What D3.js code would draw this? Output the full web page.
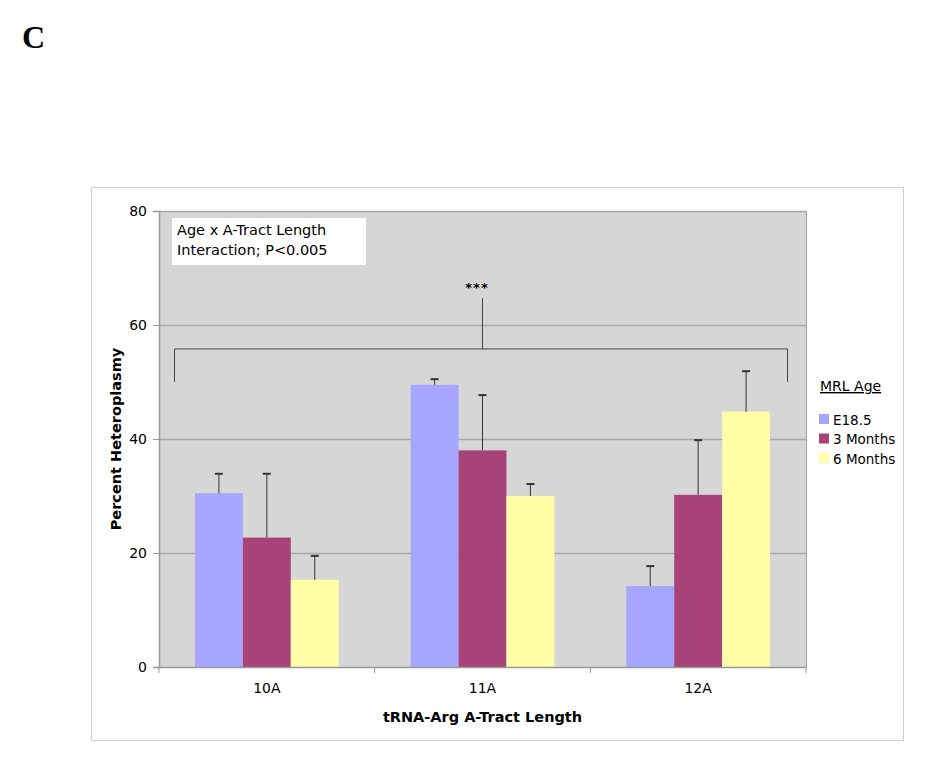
<!DOCTYPE html>
<html>
<head>
<meta charset="utf-8">
<script src="https://cdn.jsdelivr.net/npm/d3@7"></script>
<style>
  body { margin: 0; background: #fff; }
  svg text { font-family: "DejaVu Sans", Verdana, sans-serif; }
</style>
</head>
<body>
<svg id="chart" width="925" height="767"></svg>
<script>
const categories = ["10A", "11A", "12A"];
const seriesNames = ["E18.5", "3 Months", "6 Months"];
const means = {
  "E18.5":    [30.5, 49.5, 14.2],
  "3 Months": [22.7, 38.0, 30.2],
  "6 Months": [15.3, 30.0, 44.8]
};
const upper = {
  "E18.5":    [33.9, 50.5, 17.7],
  "3 Months": [33.9, 47.7, 39.8],
  "6 Months": [19.5, 32.1, 51.9]
};
const yTicks = [0, 20, 40, 60, 80];
const colors = ["#a6a6ff", "#a8437a", "#ffffa8"];

const svg = d3.select("#chart");

// panel letter
svg.append("text").attr("x", 22).attr("y", 48)
  .style("font-family", "'Liberation Serif', 'Times New Roman', serif")
  .style("font-weight", "bold").style("font-size", "32px").text("C");

// outer chart frame
svg.append("rect").attr("x", 91.5).attr("y", 187.5).attr("width", 812).attr("height", 553)
  .attr("fill", "#fff").attr("stroke", "#d0d0d0");

const plot = { left: 159, top: 211, right: 806, bottom: 667 };
const y = d3.scaleLinear().domain([0, 80]).range([plot.bottom, plot.top]);
const x0 = d3.scaleBand().domain(categories).range([plot.left, plot.right]);
const x1 = d3.scaleBand().domain(seriesNames).range([0, x0.bandwidth()])
  .paddingOuter(0.75).paddingInner(0);

// plot background
svg.append("rect").attr("x", plot.left).attr("y", plot.top)
  .attr("width", plot.right - plot.left).attr("height", plot.bottom - plot.top)
  .attr("fill", "#d6d6d6");

// gridlines
svg.append("g").selectAll("line").data(yTicks.filter(d => d > 0)).join("line")
  .attr("x1", plot.left).attr("x2", plot.right)
  .attr("y1", d => Math.round(y(d)) + 0.5).attr("y2", d => Math.round(y(d)) + 0.5)
  .attr("stroke", "#a8a8a8").attr("stroke-width", 1.5);

// right border of plot
svg.append("line").attr("x1", plot.right + 0.5).attr("x2", plot.right + 0.5)
  .attr("y1", plot.top).attr("y2", plot.bottom).attr("stroke", "#a0a0a0");

// bars
const groups = svg.append("g").selectAll("g").data(categories).join("g")
  .attr("transform", d => `translate(${x0(d)},0)`);
groups.each(function(cat, ci) {
  const g = d3.select(this);
  seriesNames.forEach((s, si) => {
    const v = means[s][ci], u = upper[s][ci];
    const bx = x1(s), bw = x1.bandwidth(), cx = bx + bw / 2;
    g.append("rect").attr("x", bx).attr("y", y(v))
      .attr("width", bw).attr("height", y(0) - y(v)).attr("fill", colors[si]);
    g.append("line").attr("x1", cx).attr("x2", cx).attr("y1", y(v)).attr("y2", y(u))
      .attr("stroke", "#333").attr("stroke-width", 1);
    g.append("line").attr("x1", cx - 4).attr("x2", cx + 4).attr("y1", y(u)).attr("y2", y(u))
      .attr("stroke", "#333").attr("stroke-width", 2);
  });
});

// axes
const yAxis = svg.append("g").attr("transform", `translate(${plot.left},0)`)
  .call(d3.axisLeft(y).tickValues(yTicks).tickSize(6).tickPadding(6));
const xAxis = svg.append("g").attr("transform", `translate(0,${plot.bottom})`)
  .call(d3.axisBottom(x0).tickSize(0).tickPadding(16));
xAxis.selectAll(".tick line").remove();
xAxis.append("g").selectAll("line").data(d3.range(categories.length + 1)).join("line")
  .attr("x1", i => plot.left + i * x0.bandwidth()).attr("x2", i => plot.left + i * x0.bandwidth())
  .attr("y1", 0).attr("y2", 6).attr("stroke", "#999");
[yAxis, xAxis].forEach(a => {
  a.select(".domain").attr("stroke", "#999").attr("stroke-width", 1.5);
  a.selectAll(".tick line").attr("stroke", "#999");
  a.selectAll("text").style("font-family", "'DejaVu Sans', Verdana, sans-serif")
    .style("font-size", "14px").attr("fill", "#000");
});

// axis titles
svg.append("text").attr("transform", `translate(121,${(plot.top + plot.bottom) / 2}) rotate(-90)`)
  .attr("text-anchor", "middle").style("font-size", "14.5px").style("font-weight", "bold")
  .text("Percent Heteroplasmy");
svg.append("text").attr("x", (plot.left + plot.right) / 2).attr("y", 722)
  .attr("text-anchor", "middle").style("font-size", "14.5px").style("font-weight", "bold")
  .text("tRNA-Arg A-Tract Length");

// annotation box
svg.append("rect").attr("x", 172).attr("y", 218).attr("width", 194).attr("height", 47).attr("fill", "#fff");
svg.append("text").attr("x", 177).attr("y", 235).style("font-size", "14.5px").text("Age x A-Tract Length");
svg.append("text").attr("x", 177).attr("y", 255).style("font-size", "14.5px").text("Interaction; P<0.005");

// significance bracket
const bx1 = 174.5, bx2 = 787.5, bmid = 482.5;
svg.append("path")
  .attr("d", `M${bx1},${y(50)} L${bx1},${y(55.8)} L${bx2},${y(55.8)} L${bx2},${y(50)} M${bmid},${y(55.8)} L${bmid},${y(64.7)}`)
  .attr("fill", "none").attr("stroke", "#444").attr("stroke-width", 1);
svg.append("text").attr("x", 477).attr("y", 292).attr("text-anchor", "middle")
  .style("font-size", "13px").style("font-weight", "bold").style("letter-spacing", "1px").text("***");

// legend
svg.append("text").attr("x", 820).attr("y", 391).style("font-size", "14px")
  .style("text-decoration", "underline").text("MRL Age");
const leg = svg.append("g").selectAll("g").data(seriesNames).join("g")
  .attr("transform", (d, i) => `translate(819,${414 + i * 19.5})`);
leg.append("rect").attr("width", 10).attr("height", 10).attr("fill", (d, i) => colors[i]);
leg.append("text").attr("x", 14).attr("y", 10.5).style("font-size", "13.5px").text(d => d);
</script>
</body>
</html>
